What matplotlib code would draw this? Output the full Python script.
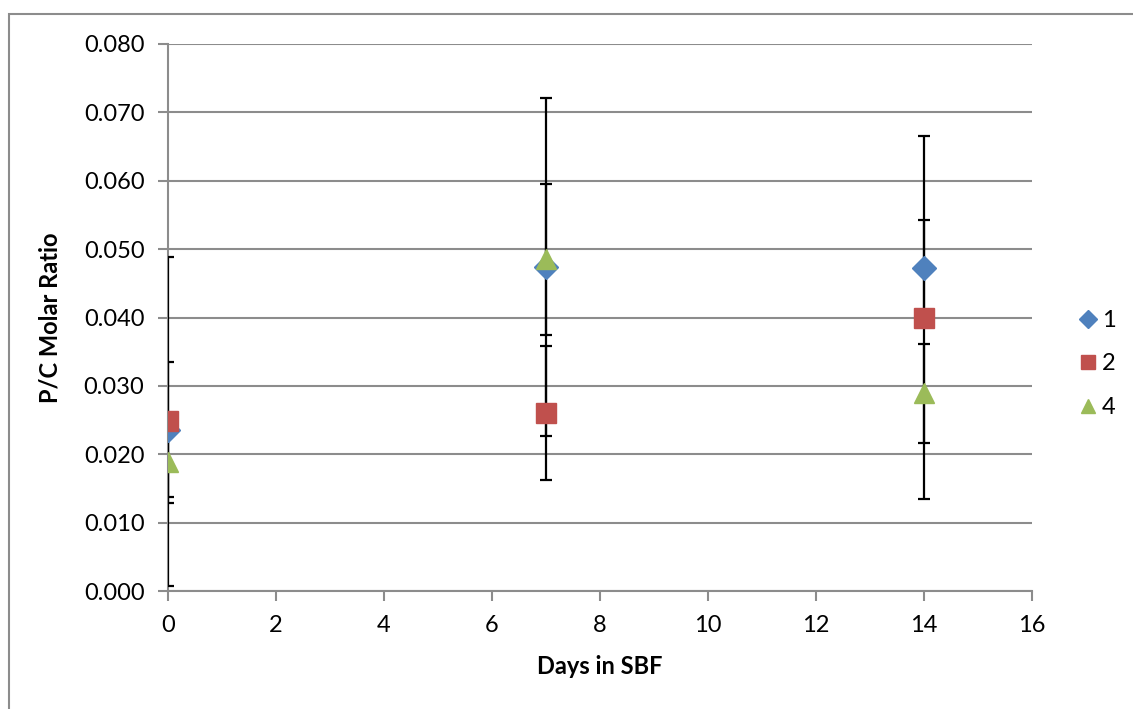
import matplotlib
matplotlib.use("Agg")
import matplotlib.pyplot as plt
from matplotlib.patches import Rectangle

plt.rcParams['font.family'] = ['Lato', 'DejaVu Sans']

days = [0, 7, 14]
series_names = ["1", "2", "4"]
s1 = [0.0236, 0.0474, 0.0472]
s2 = [0.0248, 0.0261, 0.0400]
s4 = [0.0188, 0.0485, 0.0289]
e1 = [0.0099, 0.0247, 0.0071]
e2 = [0.0240, 0.0098, 0.0266]
e4 = [0.0060, 0.0110, 0.0072]
xticks = [0, 2, 4, 6, 8, 10, 12, 14, 16]
yticks = [0.0, 0.01, 0.02, 0.03, 0.04, 0.05, 0.06, 0.07, 0.08]

colors = ["#4F81BD", "#C0504D", "#9BBB59"]
markers = ["D", "s", "^"]
msizes = [12, 14, 14]

W, H = 1133, 709
fig = plt.figure(figsize=(W / 100, H / 100), dpi=100)
ax = fig.add_axes([168 / W, 1 - 591 / H, (1032 - 168) / W, (591 - 44) / H])

# figure border (only top/left visible)
fig.patches.append(Rectangle((9 / W, -0.05), 1.1, 1 - 14 / H + 0.05,
                             transform=fig.transFigure, fill=False,
                             edgecolor="#8c8c8c", linewidth=1.5))

ys = [s1, s2, s4]
es = [e1, e2, e4]
for y, e in zip(ys, es):
    ax.errorbar(days, y, yerr=e, fmt="none", ecolor="black", elinewidth=1.6,
                capsize=4.5, capthick=1.6, zorder=3)
for y, c, m, ms, name in zip(ys, colors, markers, msizes, series_names):
    ax.plot(days, y, linestyle="none", marker=m, color=c, markersize=ms,
            markeredgecolor=c, label=name, zorder=4)

ax.set_xlim(0, 16)
ax.set_ylim(0, 0.08)
ax.set_xticks(xticks)
ax.set_yticks(yticks)
ax.set_yticklabels([f"{v:.3f}" for v in yticks])
ax.grid(axis="y", color="#8c8c8c", linewidth=1.5, zorder=0)
ax.set_axisbelow(True)
for s in ["top", "right"]:
    ax.spines[s].set_visible(False)
for s in ["left", "bottom"]:
    ax.spines[s].set_color("#8c8c8c")
    ax.spines[s].set_linewidth(1.5)
ax.tick_params(axis="both", colors="#8c8c8c", width=1.5, length=7,
               labelcolor="black", labelsize=17)
ax.tick_params(axis="y", pad=10)
ax.tick_params(axis="x", pad=10)
ax.set_xlabel("Days in SBF", fontsize=17, fontweight="bold", labelpad=14)
ax.set_ylabel("P/C Molar Ratio", fontsize=17, fontweight="bold", labelpad=16)

leg = fig.legend(*ax.get_legend_handles_labels(), loc="center left",
                 bbox_to_anchor=(1076 / W, 1 - 364 / H), frameon=False,
                 fontsize=17, handletextpad=0.1, labelspacing=0.95,
                 markerscale=0.75, handlelength=1.0, borderpad=0,
                 borderaxespad=0)

fig.savefig("out.png", dpi=100)
